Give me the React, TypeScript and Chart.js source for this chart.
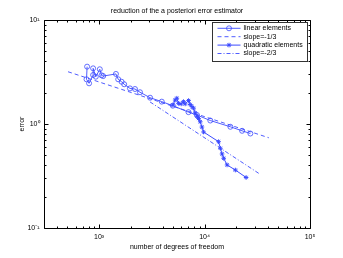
import { useEffect, useRef } from 'react';
import { Chart, registerables } from 'chart.js';

Chart.register(...registerables);

const titleText = 'reduction of the a posteriori error estimator';
const xAxisLabel = 'number of degrees of freedom';
const yAxisLabel = 'error';
const xTickValues = [1e3, 1e4, 1e5];
const yTickValues = [0.1, 1, 10];
const xLimits = [300, 1e5];
const yLimits = [0.1, 10];

const linearLabel = 'linear elements';
const linearDof = [769, 759, 803, 877, 877, 930, 1015, 1054, 1092, 1443, 1517, 1633, 1729, 1960, 2188, 2442, 3043, 3929, 5000, 7040, 8470, 11330, 17570, 22700, 27200];
const linearErr = [3.56, 2.69, 2.46, 2.96, 3.43, 2.85, 3.36, 2.94, 2.89, 3.03, 2.69, 2.55, 2.41, 2.2, 2.17, 2.02, 1.79, 1.64, 1.5, 1.3, 1.22, 1.08, 0.94, 0.86, 0.81];

const slope1Label = 'slope=-1/3';
const slope1Dof = [507, 40700];
const slope1Err = [3.18, 0.737];

const quadLabel = 'quadratic elements';
const quadDof = [5000, 5260, 5460, 5650, 6000, 6310, 6550, 7050, 7310, 7590, 7860, 8150, 8470, 8770, 9100, 9440, 9780, 13580, 14120, 14650, 15180, 16350, 19590, 24770];
const quadErr = [1.52, 1.7, 1.77, 1.58, 1.56, 1.64, 1.56, 1.68, 1.54, 1.47, 1.42, 1.28, 1.19, 1.13, 1.05, 0.935, 0.838, 0.676, 0.584, 0.515, 0.468, 0.404, 0.361, 0.306];

const slope2Label = 'slope=-2/3';
const slope2Dof = [3040, 32700];
const slope2Err = [1.63, 0.335];

const BLUE = 'rgb(60,75,255)';
const FONT = '"Liberation Sans", Arial, Helvetica, sans-serif';

const SUP: Record<string, string> = { '0': '⁰', '1': '¹', '2': '²', '3': '³', '4': '⁴', '5': '⁵', '-': '⁻' };
const pow10Label = (v: number) =>
  '10' + String(Math.round(Math.log10(v))).split('').map((c) => SUP[c] ?? c).join('');

const toPoints = (xs: number[], ys: number[]) => xs.map((x, i) => ({ x, y: ys[i] }));

function logTickList(min: number, max: number) {
  const out: { v: number; major: boolean }[] = [];
  for (let k = Math.floor(Math.log10(min)) - 1; k <= Math.ceil(Math.log10(max)); k++) {
    for (let m = 1; m <= 9; m++) {
      const v = m * Math.pow(10, k);
      if (v >= min * 0.999 && v <= max * 1.001) out.push({ v, major: m === 1 });
    }
  }
  return out;
}

const framePlugin = {
  id: 'matlabFrame',
  afterDatasetsDraw(chart: any) {
    const { ctx, chartArea: a, scales } = chart;
    const xs = scales.x;
    const ys = scales.y;
    const L = Math.round(a.left) + 0.5;
    const R = Math.round(a.right) + 0.5;
    const T = Math.round(a.top) + 0.5;
    const B = Math.round(a.bottom) + 0.5;
    ctx.save();
    ctx.strokeStyle = '#000';
    ctx.lineWidth = 1;
    ctx.setLineDash([]);
    ctx.beginPath();
    ctx.rect(L, T, R - L, B - T);
    for (const t of logTickList(xs.min, xs.max)) {
      const p = Math.round(xs.getPixelForValue(t.v)) + 0.5;
      const len = t.major ? 4 : 2;
      ctx.moveTo(p, B);
      ctx.lineTo(p, B - len);
      ctx.moveTo(p, T);
      ctx.lineTo(p, T + len);
    }
    for (const t of logTickList(ys.min, ys.max)) {
      const p = Math.round(ys.getPixelForValue(t.v)) + 0.5;
      const len = t.major ? 4 : 2;
      ctx.moveTo(L, p);
      ctx.lineTo(L + len, p);
      ctx.moveTo(R, p);
      ctx.lineTo(R - len, p);
    }
    ctx.stroke();
    ctx.restore();
  },
};

const boxLegendPlugin = {
  id: 'boxLegend',
  afterDraw(chart: any) {
    const { ctx, chartArea: a } = chart;
    const w = 95;
    const h = 39;
    const x0 = Math.round(a.right) - 3 - w + 0.5;
    const y0 = Math.round(a.top) + 2.5;
    const rowH = 8.4;
    ctx.save();
    ctx.fillStyle = '#fff';
    ctx.fillRect(x0, y0, w, h);
    ctx.strokeStyle = '#333';
    ctx.lineWidth = 1;
    ctx.setLineDash([]);
    ctx.strokeRect(x0, y0, w, h);
    ctx.font = `7px ${FONT}`;
    ctx.textBaseline = 'middle';
    ctx.textAlign = 'left';
    chart.data.datasets.forEach((ds: any, i: number) => {
      const cy = y0 + 5.8 + i * rowH;
      const lx0 = x0 + 5;
      const lx1 = x0 + 28;
      ctx.strokeStyle = ds.borderColor;
      ctx.lineWidth = ds.borderWidth;
      ctx.setLineDash(ds.borderDash || []);
      ctx.beginPath();
      ctx.moveTo(lx0, cy);
      ctx.lineTo(lx1, cy);
      ctx.stroke();
      ctx.setLineDash([]);
      if (ds.pointRadius > 0) {
        const cx = (lx0 + lx1) / 2;
        const r = ds.pointRadius;
        ctx.lineWidth = ds.pointBorderWidth;
        ctx.strokeStyle = ds.borderColor;
        ctx.beginPath();
        if (ds.pointStyle === 'circle') {
          ctx.arc(cx, cy, r, 0, Math.PI * 2);
        } else {
          ctx.moveTo(cx - r, cy);
          ctx.lineTo(cx + r, cy);
          ctx.moveTo(cx, cy - r);
          ctx.lineTo(cx, cy + r);
          const d = r * Math.SQRT1_2;
          ctx.moveTo(cx - d, cy - d);
          ctx.lineTo(cx + d, cy + d);
          ctx.moveTo(cx - d, cy + d);
          ctx.lineTo(cx + d, cy - d);
        }
        ctx.stroke();
      }
      ctx.fillStyle = '#000';
      ctx.fillText(ds.label, x0 + 31, cy);
    });
    ctx.restore();
  },
};

export default function App() {
  const ref = useRef<HTMLCanvasElement>(null);
  useEffect(() => {
    Chart.defaults.font.family = FONT;
    Chart.defaults.color = '#000';
    const chart = new Chart(ref.current as HTMLCanvasElement, {
      type: 'scatter',
      data: {
        datasets: [
          {
            label: linearLabel,
            data: toPoints(linearDof, linearErr),
            showLine: true,
            borderColor: BLUE,
            backgroundColor: 'rgba(0,0,0,0)',
            borderWidth: 0.9,
            pointStyle: 'circle',
            pointRadius: 2.5,
            pointBorderWidth: 0.8,
            pointBorderColor: BLUE,
            pointBackgroundColor: 'rgba(0,0,0,0)',
          },
          {
            label: slope1Label,
            data: toPoints(slope1Dof, slope1Err),
            showLine: true,
            borderColor: BLUE,
            backgroundColor: 'rgba(0,0,0,0)',
            borderWidth: 0.9,
            borderDash: [4, 3],
            pointRadius: 0,
            pointBorderWidth: 0,
          },
          {
            label: quadLabel,
            data: toPoints(quadDof, quadErr),
            showLine: true,
            borderColor: BLUE,
            backgroundColor: 'rgba(0,0,0,0)',
            borderWidth: 1,
            pointStyle: 'star',
            pointRadius: 2.3,
            pointBorderWidth: 1,
            pointBorderColor: BLUE,
            pointBackgroundColor: BLUE,
          },
          {
            label: slope2Label,
            data: toPoints(slope2Dof, slope2Err),
            showLine: true,
            borderColor: BLUE,
            backgroundColor: 'rgba(0,0,0,0)',
            borderWidth: 0.9,
            borderDash: [4, 2, 1, 2],
            pointRadius: 0,
            pointBorderWidth: 0,
          },
        ],
      },
      options: {
        responsive: false,
        animation: false,
        events: [],
        layout: { padding: { left: 0, right: 33, top: 0, bottom: 0 } },
        plugins: {
          legend: { display: false },
          tooltip: { enabled: false },
          title: {
            display: true,
            text: titleText,
            fullSize: false,
            color: '#000',
            font: { size: 7, weight: 'normal', family: FONT },
            padding: { top: 7, bottom: 4.6 },
          },
        },
        scales: {
          x: {
            type: 'logarithmic',
            min: xLimits[0],
            max: xLimits[1],
            grid: { display: false, drawTicks: false },
            border: { display: false },
            afterBuildTicks: (s: any) => {
              s.ticks = xTickValues.map((v) => ({ value: v }));
            },
            afterFit: (s: any) => {
              s.height = 30;
            },
            ticks: {
              autoSkip: false,
              maxRotation: 0,
              padding: 5,
              color: '#000',
              font: { size: 7, family: FONT },
              callback: (v: any) => pow10Label(Number(v)),
            },
            title: {
              display: true,
              text: xAxisLabel,
              color: '#000',
              font: { size: 7, family: FONT },
              padding: { top: 0, bottom: 6.8 },
            },
          },
          y: {
            type: 'logarithmic',
            min: yLimits[0],
            max: yLimits[1],
            grid: { display: false, drawTicks: false },
            border: { display: false },
            afterBuildTicks: (s: any) => {
              s.ticks = yTickValues.map((v) => ({ value: v }));
            },
            afterFit: (s: any) => {
              s.width = 44;
            },
            ticks: {
              autoSkip: false,
              padding: 4.5,
              color: '#000',
              font: { size: 7, family: FONT },
              callback: (v: any) => pow10Label(Number(v)),
            },
            title: {
              display: true,
              text: yAxisLabel,
              color: '#000',
              font: { size: 7, family: FONT },
              padding: { top: 17.8, bottom: 0 },
            },
          },
        },
      },
      plugins: [framePlugin, boxLegendPlugin],
    } as any);
    return () => chart.destroy();
  }, []);
  return (
    <div style={{ position: 'absolute', left: 0, top: 0, width: 343, height: 258, background: '#fff' }}>
      <canvas ref={ref} width={343} height={258} style={{ display: 'block' }} />
    </div>
  );
}
